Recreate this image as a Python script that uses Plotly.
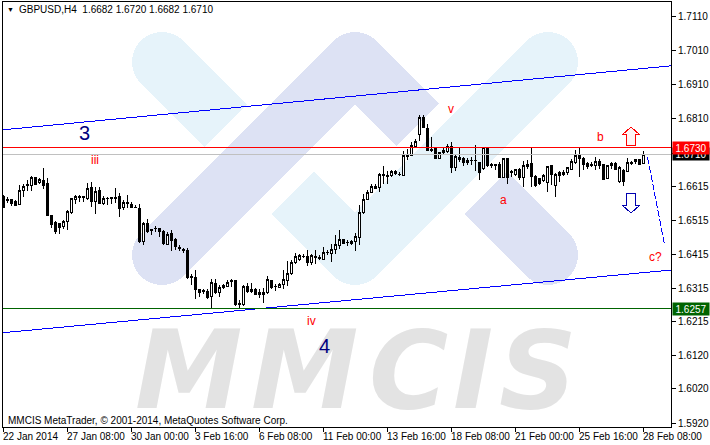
"""GBPUSD H4 candlestick chart with wave marks and the MMCIS watermark."""

import math

import plotly.graph_objects as go

opens = [
    1.6585, 1.6575, 1.6577, 1.6570, 1.6563, 1.6603, 1.6621, 1.6617, 1.6641, 1.6626,
    1.6634, 1.6624, 1.6531, 1.6510, 1.6508, 1.6497, 1.6514, 1.6539, 1.6577, 1.6582,
    1.6584, 1.6581, 1.6613, 1.6570, 1.6605, 1.6567, 1.6579, 1.6580, 1.6583, 1.6587,
    1.6553, 1.6569, 1.6563, 1.6555, 1.6551, 1.6453, 1.6508, 1.6488, 1.6491, 1.6492,
    1.6483, 1.6446, 1.6477, 1.6461, 1.6436, 1.6430, 1.6428, 1.6351, 1.6349, 1.6314,
    1.6309, 1.6308, 1.6291, 1.6330, 1.6304, 1.6319, 1.6322, 1.6338, 1.6340, 1.6272,
    1.6268, 1.6322, 1.6312, 1.6312, 1.6303, 1.6297, 1.6303, 1.6340, 1.6323, 1.6320,
    1.6327, 1.6340, 1.6359, 1.6392, 1.6401, 1.6409, 1.6410, 1.6391, 1.6409, 1.6406,
    1.6402, 1.6421, 1.6420, 1.6431, 1.6441, 1.6459, 1.6452, 1.6447, 1.6453, 1.6465,
    1.6538, 1.6577, 1.6597, 1.6616, 1.6612, 1.6648, 1.6648, 1.6647, 1.6660, 1.6652,
    1.6649, 1.6705, 1.6707, 1.6734, 1.6768, 1.6818, 1.6786, 1.6723, 1.6729, 1.6698,
    1.6714, 1.6719, 1.6732, 1.6670, 1.6702, 1.6697, 1.6685, 1.6693, 1.6693, 1.6685,
    1.6668, 1.6729, 1.6679, 1.6679, 1.6680, 1.6642, 1.6697, 1.6659, 1.6650, 1.6666,
    1.6643, 1.6673, 1.6683, 1.6644, 1.6639, 1.6632, 1.6626, 1.6676, 1.6619, 1.6656,
    1.6651, 1.6656, 1.6666, 1.6686, 1.6709, 1.6699, 1.6683, 1.6680, 1.6678, 1.6690,
    1.6680, 1.6639, 1.6684, 1.6683, 1.6629, 1.6663, 1.6661, 1.6684, 1.6688, 1.6694, 1.6682,
]
highs = [
    1.6590, 1.6585, 1.6577, 1.6577, 1.6619, 1.6624, 1.6636, 1.6646, 1.6644, 1.6639,
    1.6669, 1.6639, 1.6531, 1.6514, 1.6508, 1.6516, 1.6546, 1.6582, 1.6590, 1.6590,
    1.6588, 1.6626, 1.6629, 1.6614, 1.6614, 1.6587, 1.6585, 1.6585, 1.6610, 1.6595,
    1.6575, 1.6590, 1.6570, 1.6560, 1.6563, 1.6511, 1.6521, 1.6492, 1.6499, 1.6492,
    1.6487, 1.6482, 1.6487, 1.6465, 1.6443, 1.6435, 1.6436, 1.6357, 1.6369, 1.6315,
    1.6313, 1.6313, 1.6343, 1.6345, 1.6327, 1.6330, 1.6342, 1.6343, 1.6342, 1.6283,
    1.6325, 1.6332, 1.6332, 1.6318, 1.6315, 1.6318, 1.6352, 1.6342, 1.6328, 1.6332,
    1.6369, 1.6397, 1.6399, 1.6420, 1.6416, 1.6416, 1.6430, 1.6416, 1.6428, 1.6413,
    1.6438, 1.6430, 1.6446, 1.6472, 1.6489, 1.6460, 1.6457, 1.6457, 1.6479, 1.6560,
    1.6593, 1.6604, 1.6624, 1.6624, 1.6655, 1.6675, 1.6661, 1.6663, 1.6663, 1.6658,
    1.6719, 1.6727, 1.6747, 1.6756, 1.6825, 1.6825, 1.6798, 1.6761, 1.6732, 1.6717,
    1.6729, 1.6740, 1.6747, 1.6707, 1.6730, 1.6702, 1.6700, 1.6702, 1.6736, 1.6687,
    1.6731, 1.6730, 1.6685, 1.6682, 1.6688, 1.6700, 1.6699, 1.6665, 1.6668, 1.6671,
    1.6690, 1.6692, 1.6730, 1.6650, 1.6641, 1.6653, 1.6676, 1.6680, 1.6656, 1.6660,
    1.6663, 1.6673, 1.6695, 1.6722, 1.6730, 1.6702, 1.6686, 1.6686, 1.6702, 1.6697,
    1.6683, 1.6680, 1.6686, 1.6686, 1.6676, 1.6668, 1.6699, 1.6690, 1.6697, 1.6697, 1.6720,
]
lows = [
    1.6553, 1.6567, 1.6557, 1.6557, 1.6560, 1.6585, 1.6602, 1.6602, 1.6619, 1.6624,
    1.6607, 1.6528, 1.6495, 1.6477, 1.6475, 1.6491, 1.6487, 1.6536, 1.6565, 1.6570,
    1.6570, 1.6577, 1.6556, 1.6536, 1.6565, 1.6562, 1.6560, 1.6565, 1.6567, 1.6526,
    1.6546, 1.6553, 1.6551, 1.6551, 1.6450, 1.6443, 1.6479, 1.6472, 1.6482, 1.6467,
    1.6443, 1.6443, 1.6426, 1.6430, 1.6426, 1.6420, 1.6343, 1.6325, 1.6286, 1.6291,
    1.6301, 1.6286, 1.6257, 1.6301, 1.6291, 1.6313, 1.6319, 1.6320, 1.6263, 1.6257,
    1.6263, 1.6303, 1.6303, 1.6296, 1.6289, 1.6274, 1.6301, 1.6315, 1.6308, 1.6318,
    1.6315, 1.6322, 1.6356, 1.6389, 1.6397, 1.6406, 1.6381, 1.6384, 1.6389, 1.6399,
    1.6399, 1.6413, 1.6394, 1.6416, 1.6431, 1.6446, 1.6441, 1.6443, 1.6426, 1.6443,
    1.6534, 1.6575, 1.6595, 1.6609, 1.6600, 1.6624, 1.6624, 1.6642, 1.6650, 1.6646,
    1.6646, 1.6693, 1.6704, 1.6732, 1.6749, 1.6786, 1.6719, 1.6717, 1.6696, 1.6696,
    1.6710, 1.6715, 1.6655, 1.6660, 1.6688, 1.6676, 1.6678, 1.6680, 1.6660, 1.6636,
    1.6663, 1.6673, 1.6671, 1.6663, 1.6639, 1.6639, 1.6624, 1.6643, 1.6646, 1.6636,
    1.6614, 1.6668, 1.6614, 1.6614, 1.6619, 1.6629, 1.6599, 1.6619, 1.6585, 1.6629,
    1.6646, 1.6648, 1.6663, 1.6683, 1.6644, 1.6663, 1.6668, 1.6673, 1.6663, 1.6668,
    1.6634, 1.6637, 1.6668, 1.6663, 1.6627, 1.6617, 1.6660, 1.6680, 1.6683, 1.6678, 1.6682,
]
closes = [
    1.6553, 1.6577, 1.6567, 1.6560, 1.6605, 1.6616, 1.6619, 1.6641, 1.6622, 1.6636,
    1.6619, 1.6529, 1.6504, 1.6482, 1.6496, 1.6514, 1.6541, 1.6580, 1.6585, 1.6585,
    1.6585, 1.6610, 1.6570, 1.6601, 1.6567, 1.6580, 1.6581, 1.6582, 1.6579, 1.6551,
    1.6569, 1.6565, 1.6554, 1.6553, 1.6453, 1.6508, 1.6482, 1.6486, 1.6493, 1.6482,
    1.6448, 1.6475, 1.6457, 1.6440, 1.6433, 1.6428, 1.6347, 1.6349, 1.6314, 1.6303,
    1.6307, 1.6288, 1.6332, 1.6303, 1.6320, 1.6326, 1.6333, 1.6336, 1.6269, 1.6270,
    1.6322, 1.6308, 1.6307, 1.6299, 1.6298, 1.6304, 1.6342, 1.6320, 1.6321, 1.6328,
    1.6342, 1.6359, 1.6392, 1.6410, 1.6413, 1.6411, 1.6391, 1.6413, 1.6407, 1.6404,
    1.6421, 1.6423, 1.6431, 1.6446, 1.6460, 1.6448, 1.6450, 1.6454, 1.6469, 1.6539,
    1.6577, 1.6599, 1.6616, 1.6609, 1.6651, 1.6650, 1.6646, 1.6660, 1.6653, 1.6650,
    1.6707, 1.6710, 1.6737, 1.6748, 1.6818, 1.6789, 1.6720, 1.6721, 1.6699, 1.6715,
    1.6722, 1.6734, 1.6670, 1.6704, 1.6695, 1.6685, 1.6693, 1.6691, 1.6691, 1.6658,
    1.6729, 1.6676, 1.6677, 1.6677, 1.6641, 1.6697, 1.6643, 1.6657, 1.6665, 1.6641,
    1.6676, 1.6680, 1.6644, 1.6617, 1.6624, 1.6648, 1.6673, 1.6650, 1.6650, 1.6648,
    1.6658, 1.6670, 1.6690, 1.6707, 1.6697, 1.6680, 1.6673, 1.6678, 1.6690, 1.6676,
    1.6637, 1.6676, 1.6676, 1.6665, 1.6670, 1.6631, 1.6686, 1.6686, 1.6695, 1.6681, 1.6710,
]

date_ticks = [0, 16, 32, 48, 64, 80, 96, 112, 128, 144, 160]
date_labels = [
    "22 Jan 2014", "27 Jan 08:00", "30 Jan 00:00", "3 Feb 16:00", "6 Feb 08:00",
    "11 Feb 00:00", "13 Feb 16:00", "18 Feb 08:00", "21 Feb 00:00", "25 Feb 16:00",
    "28 Feb 08:00",
]
# MetaTrader rounds its labels, so the marks sit a little off the printed price
price_tick_positions = [1.7114, 1.7015, 1.6914, 1.6815, 1.6713, 1.6616, 1.6516, 1.6417, 1.6317, 1.6218, 1.6120, 1.6021, 1.5920]
price_tick_labels = ["1.7110", "1.7010", "1.6910", "1.6810", "1.6710", "1.6615", "1.6515", "1.6415", "1.6315", "1.6215", "1.6120", "1.6020", "1.5920"]

upper_channel_x = [-0.125, 166.875]
upper_channel_y = [1.6782, 1.6970]
lower_channel_x = [-0.125, 166.875]
lower_channel_y = [1.6186, 1.6370]
forecast_x = [161, 165.2]
forecast_y = [1.6702, 1.6448]
level_lines = [1.6730, 1.67094, 1.6257]

LEFT, TOP, WIDTH, HEIGHT = 3, 2, 668, 425
BLUE = "#e6f3fa"
LAVENDER = "#dde2f4"
GREY = "#e3e3e3"
FONT = "Liberation Sans"


def px_x(x):
    return (x - LEFT) / WIDTH


def px_y(y):
    return (TOP + HEIGHT - y) / HEIGHT


def polygon(points, **kw):
    path = "M" + "L".join(f"{px_x(x):.5f},{px_y(y):.5f}" for x, y in points) + "Z"
    return dict(type="path", path=path, xref="paper", yref="paper", **kw)


def logo_band(color, start, end, radius=30, round_start=True, round_end=True):
    """Straight band of the logo with optional round ends, in screen pixels."""
    angle = math.atan2(end[1] - start[1], end[0] - start[0])
    points = []
    for (cx, cy), base, rounded in ((end, angle, round_end), (start, angle + math.pi, round_start)):
        if rounded:
            steps = [base - math.pi / 2 + math.pi * k / 24 for k in range(25)]
        else:
            steps = [base - math.pi / 2, base + math.pi / 2]
        points += [(cx + radius * math.cos(a), cy + radius * math.sin(a)) for a in steps]
    return polygon(points, fillcolor=color, line_width=0, layer="below")


def label(text, x, y, size=10, color="black", anchor="left", family=FONT):
    return dict(
        text=text, x=px_x(x), y=px_y(y), xref="paper", yref="paper", xanchor=anchor, yanchor="middle",
        showarrow=False, font=dict(family=family, size=size, color=color), borderpad=0,
    )


fig = go.Figure()
fig.add_trace(go.Candlestick(
    x=list(range(len(opens))), open=opens, high=highs, low=lows, close=closes,
    increasing=dict(line=dict(color="black", width=1), fillcolor="white"),
    decreasing=dict(line=dict(color="black", width=1), fillcolor="black"),
    showlegend=False,
))
for xs, ys in ((upper_channel_x, upper_channel_y), (lower_channel_x, lower_channel_y)):
    fig.add_trace(go.Scatter(x=xs, y=ys, mode="lines", line=dict(color="#0000ff", width=1), showlegend=False))
fig.add_trace(go.Scatter(
    x=forecast_x, y=forecast_y, mode="lines", line=dict(color="#0000ff", width=1, dash="7px,2px"), showlegend=False,
))
for level, color in zip(level_lines, ("#ff0000", "#c0c0c0", "#006400")):
    fig.add_trace(go.Scatter(
        x=[-0.125, 166.875], y=[level, level], mode="lines", line=dict(color=color, width=1), showlegend=False,
    ))

shapes = [
    logo_band(BLUE, (162, 62), (226, 126), round_end=False),
    logo_band(BLUE, (293, 193), (355, 255), round_start=False),
    logo_band(BLUE, (355, 255), (548, 62)),
    logo_band(LAVENDER, (162, 255), (355, 62)),
    logo_band(LAVENDER, (355, 62), (418, 125), round_end=False),
    logo_band(LAVENDER, (486, 193), (548, 255), round_start=False),
    polygon([(631, 127), (640, 135), (635, 135), (635, 146), (627, 146), (627, 135), (622, 135)],
            fillcolor="#fff4f4", line=dict(color="#ff0000", width=1)),
    polygon([(631, 213), (640, 205), (635, 205), (635, 194), (627, 194), (627, 205), (622, 205)],
            fillcolor="white", line=dict(color="#0000b0", width=1)),
]

annotations = [
    label(letter, x, 370, size=108, color=GREY, anchor="center", family="DejaVu Sans")
    for letter, x in (("<b><i>M</i></b>", 189), ("<b><i>M</i></b>", 304), ("<b><i>C</i></b>", 408),
                      ("<b><i>I</i></b>", 473), ("<b><i>S</i></b>", 538))
]
annotations += [label("▼", 6, 10, size=7), label("GBPUSD,H4  1.6682 1.6720 1.6682 1.6710", 18, 10)]
annotations.append(label("MMCIS MetaTrader, © 2001-2014, MetaQuotes Software Corp.", 7, 420))
for text, x, y, size, color in (
    ("3", 84, 133, 20, "#000080"), ("4", 324, 346, 20, "#000080"), ("iii", 95, 160, 12, "#ff0000"),
    ("iv", 311, 321, 12, "#ff0000"), ("v", 451, 109, 12, "#ff0000"), ("a", 503, 200, 12, "#ff0000"),
    ("b", 600, 137, 12, "#ff0000"), ("c?", 655, 257, 12, "#ff0000"),
):
    annotations.append(label(text, x, y, size=size, color=color, anchor="center"))
for tick, text in zip(date_ticks, date_labels):
    annotations.append(label(text, LEFT + 4 * tick - 1, 436))
for price, text, color in ((1.6710, "1.6710", "black"), (1.6730, "1.6730", "#ff0000"), (1.6257, "1.6257", "#006400")):
    annotations.append(dict(
        text=text, x=px_x(672), y=price, xref="paper", yref="y", xanchor="left", yanchor="middle",
        showarrow=False, bgcolor=color, width=36, height=12, borderpad=0, align="center",
        font=dict(family=FONT, size=10, color="white"),
    ))

fig.update_layout(
    width=710, height=445, autosize=False,
    margin=dict(l=LEFT, r=710 - LEFT - WIDTH, t=TOP, b=445 - TOP - HEIGHT),
    paper_bgcolor="white", plot_bgcolor="white", showlegend=False,
    font=dict(family=FONT, size=10, color="black"),
    shapes=shapes, annotations=annotations,
    xaxis=dict(
        range=[-0.125, 166.875], rangeslider=dict(visible=False), showgrid=False, zeroline=False,
        tickmode="array", tickvals=date_ticks, ticktext=[""] * len(date_ticks),
        ticks="outside", ticklen=4, tickcolor="black", showline=True, linecolor="black", linewidth=1, mirror=True,
    ),
    yaxis=dict(
        range=[1.59089, 1.71575], side="right", showgrid=False, zeroline=False,
        tickmode="array", tickvals=price_tick_positions, ticktext=price_tick_labels,
        ticks="outside", ticklen=4, tickcolor="black", showline=True, linecolor="black", linewidth=1, mirror=True,
    ),
)

# page margin off, and hard pixel edges as on the MetaTrader screen
page_fix = (
    "document.body.style.margin = '0';"
    "var s = document.createElement('style');"
    "s.textContent = 'svg path { shape-rendering: crispEdges !important; }';"
    "document.head.appendChild(s);"
)
fig.write_html("out.html", config={"displayModeBar": False}, post_script=page_fix)
